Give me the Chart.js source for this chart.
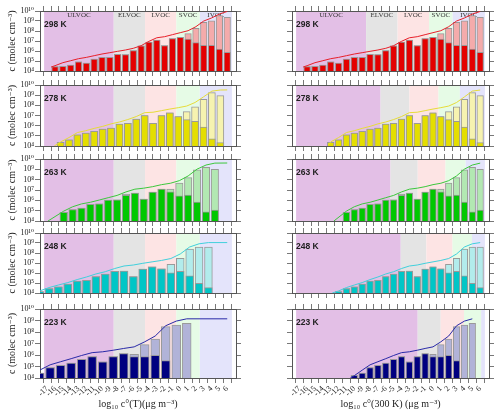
<!DOCTYPE html>
<html>
<head>
<meta charset="utf-8">
<script src="https://cdn.jsdelivr.net/npm/chart.js@4"></script>
<style>
  body { margin: 0; background: #fff; width: 500px; height: 415px; overflow: hidden; position: relative; }
  canvas { position: absolute; }
</style>
</head>
<body>
<script>
// ---- data ----
const temps = ['298 K', '278 K', '263 K', '248 K', '223 K'];
const classNames = ['ULVOC', 'ELVOC', 'LVOC', 'SVOC', 'IVOC'];
const xTicks = [-17,-16,-15,-14,-13,-12,-11,-10,-9,-8,-7,-6,-5,-4,-3,-2,-1,0,1,2,3,4,5,6];
const yTicks = [1e4, 1e5, 1e6, 1e7, 1e8, 1e9, 1e10];

// class borders, log10 c°(T) axis (left) and log10 c°(300 K) axis (right, one row per T)
const edgesT = [-8.5, -4.5, -0.5, 2.5];
const edges300 = [
  [-8.5, -4.5, -0.5, 2.5],
  [-6.66, -3.0, 0.7, 3.42],
  [-5.39, -1.94, 1.59, 4.15],
  [-4.1, -0.85, 2.48, 4.96],
  [-1.94, 0.98, 3.94, 6.13]
];

// 298 K
const bins298 = [-16,-15,-14,-13,-12,-11,-10,-9,-8,-7,-6,-5,-4,-3,-2,-1,0,1,2,3,4,5,6];
const xT298 = [-16,-15,-14,-13,-12,-11,-10,-9,-8,-7,-6,-5,-4,-3,-2,-1,0,1,2,3,4,5,6];
const part298 = [2.7e4,2.95e4,4.0e4,8.5e4,6.3e4,1.6e5,2.3e5,2.3e5,4.7e5,4.3e5,1.1e6,3.2e6,7.9e6,1.25e7,3.4e6,1.7e7,2.3e7,1.6e7,6.8e6,3.7e6,3.7e6,1.6e6,7.4e5];
const total298 = [2.7e4,2.95e4,4.0e4,8.5e4,6.3e4,1.6e5,2.3e5,2.3e5,4.7e5,4.3e5,1.1e6,3.2e6,7.9e6,1.25e7,3.4e6,1.7e7,2.3e7,5.4e7,1.9e8,7.4e8,1.07e9,3.4e9,2.3e9];
const cum298 = [3.4e4,6.8e4,1.07e5,1.7e5,2.3e5,3.4e5,5.0e5,6.8e5,9.3e5,1.26e6,1.86e6,3.4e6,9.3e6,2.1e7,2.7e7,4.3e7,6.8e7,1.07e8,2.7e8,1.0e9,2.0e9,5.0e9,9.0e9];

// 278 K
const bins278 = [-13,-12,-11,-10,-9,-8,-7,-6,-5,-4,-3,-2,-1,0,1,2,3,4,5,6];
const xT278 = [-15.29,-14.22,-13.14,-12.07,-11.0,-9.92,-8.85,-7.77,-6.7,-5.62,-4.55,-3.48,-2.4,-1.33,-0.25,0.82,1.89,2.97,4.04,5.12];
const part278 = [2.3e4,4.0e4,1.26e5,1.9e5,2.7e5,4.7e5,5.9e5,1.4e6,1.66e6,4.5e6,1.0e7,1.66e6,1.0e7,1.8e7,7.9e6,4.0e6,2.7e6,7.1e5,5.2e4,2.2e4];
const total278 = [2.3e4,4.0e4,1.26e5,1.9e5,2.7e5,4.7e5,5.9e5,1.4e6,1.66e6,4.5e6,1.0e7,1.66e6,1.0e7,1.8e7,7.9e6,2.4e7,7.2e7,4.0e8,1.8e9,8.9e8];
const cum278 = [2.5e4,6.8e4,2.1e5,3.2e5,5.4e5,8.5e5,1.5e6,2.3e6,4.0e6,7.9e6,1.9e7,2.1e7,3.0e7,4.3e7,5.9e7,8.5e7,1.9e8,6.8e8,2.5e9,3.2e9];

// 263 K
const bins263 = [-11,-10,-9,-8,-7,-6,-5,-4,-3,-2,-1,0,1,2,3,4,5,6];
const xT263 = [-14.89,-13.75,-12.62,-11.48,-10.35,-9.21,-8.07,-6.94,-5.8,-4.67,-3.53,-2.39,-1.26,-0.12,1.01,2.15,3.29,4.42];
const part263 = [6.8e4,1.26e5,1.8e5,4.0e5,4.5e5,1.05e6,1.12e6,3.1e6,5.0e6,1.3e6,6.3e6,1.23e7,6.5e6,2.75e6,3.3e6,6.9e5,7.6e4,1.17e5];
const total263 = [6.8e4,1.26e5,1.8e5,4.0e5,4.5e5,1.05e6,1.12e6,4.1e6,5.0e6,1.3e6,6.3e6,1.23e7,1.23e7,4.8e7,1.55e8,8.9e8,1.55e9,1.0e9];
const cum263 = [9.0e4,2.4e5,4.5e5,6.5e5,1.07e6,1.8e6,3.0e6,6.5e6,1.2e7,1.5e7,2.1e7,3.3e7,4.5e7,8.0e7,2.3e8,1.05e9,2.6e9,4.0e9];

// 248 K
const bins248 = [-12,-11,-10,-9,-8,-7,-6,-5,-4,-3,-2,-1,0,1,2,3,4,5,6];
const xT248 = [-17.96,-16.76,-15.57,-14.37,-13.17,-11.98,-10.78,-9.58,-8.38,-7.19,-5.99,-4.79,-3.6,-2.4,-1.2,0.0,1.2,2.4,3.6];
const part248 = [1.35e4,2.75e4,4.2e4,7.6e4,1.6e5,1.8e5,4.4e5,7.9e5,1.5e6,1.6e6,4.4e5,2.4e6,4.2e6,2.6e6,1.05e6,1.5e6,5.2e5,9.5e4,3.4e4];
const total248 = [1.35e4,2.75e4,4.2e4,7.6e4,1.6e5,1.8e5,4.4e5,7.9e5,1.5e6,1.6e6,4.4e5,2.4e6,4.2e6,2.6e6,7.4e6,3.0e7,2.4e8,3.8e8,3.8e8];
const cum248 = [1.6e4,3.5e4,6.3e4,1.1e5,2.2e5,4.0e5,8.0e5,1.35e6,2.8e6,5.0e6,6.3e6,9.3e6,1.3e7,1.8e7,2.8e7,8.0e7,4.0e8,8.3e8,1.1e9];

// 223 K
const bins223 = [-10,-9,-8,-7,-6,-5,-4,-3,-2,-1,0,1,2,3,4,5];
const xT223 = [-19.32,-17.97,-16.63,-15.29,-13.94,-12.6,-11.26,-9.91,-8.57,-7.23,-5.89,-4.54,-3.2,-1.86,-0.51,0.83];
const part223 = [1.7e4,2.7e4,7.9e4,1.26e5,2.0e5,4.2e5,7.2e5,2.6e5,7.2e5,1.3e6,7.2e5,7.2e5,9.3e5,3.2e5,null,null];
const total223 = [1.7e4,2.7e4,7.9e4,1.26e5,2.0e5,4.2e5,7.2e5,2.6e5,7.2e5,1.3e6,1.15e6,7.9e6,2.45e7,2.9e8,4.0e8,5.6e8];
const cum223 = [1.6e4,4.8e4,1.4e5,2.6e5,4.8e5,9.1e5,1.6e6,1.9e6,2.6e6,3.7e6,5.1e6,1.4e7,4.5e7,3.5e8,8.9e8,1.4e9];

// where the cumulative lines start / end outside the bins
const leadR = [[-16.5, 2.5e4], [-13.3, 1.4e4], [-12.6, 1e4], [-12.8, 1e4], [-10.5, 1e4]];
const leadL = [[-16.5, 2.5e4], [-16.1, 1e4], [-16.9, 1e4], null, null];
const tailL = [null, [6.0, 3.3e9], [6.0, 4.1e9], [6.0, 1.1e9], [6.0, 1.4e9]];

const bins = [bins298, bins278, bins263, bins248, bins223];
const xLeft = [xT298, xT278, xT263, xT248, xT223];
const part = [part298, part278, part263, part248, part223];
const total = [total298, total278, total263, total248, total223];
const cum = [cum298, cum278, cum263, cum248, cum223];

// ---- styles ----
const darkCol = ['#e40000', '#e4de00', '#00c800', '#00c6c6', '#000080'];
const lightCol = ['#f4abab', '#f6f3b0', '#b2e8b2', '#b2ecec', '#b1b3d8'];
const lineCol = ['#e8202a', '#e6dc3a', '#3cc83c', '#40d0dc', '#2a2aa8'];
const classCol = ['#e3bfe6', '#e4e4e4', '#fde4e4', '#e6fbe6', '#e4e4fb'];

const X_MIN = -17.4, X_MAX = 6.6;
const rowTop = [11, 85, 159, 233, 309];
const rowBot = [71, 146, 221, 293, 378];

Chart.defaults.font.family = "'Liberation Serif', 'DejaVu Serif', serif";
Chart.defaults.color = '#222';

function sup(n) {
  return String(n).split('').map(ch => '⁰¹²³⁴⁵⁶⁷⁸⁹'['0123456789'.indexOf(ch)]).join('');
}

const decor = {
  id: 'decor',
  beforeDraw(chart, args, opts) {
    const {ctx, chartArea: a} = chart;
    const x = chart.scales.x;
    const b = [X_MIN, ...opts.edges, X_MAX];
    ctx.save();
    for (let i = 0; i < 5; i++) {
      const x0 = Math.max(a.left, x.getPixelForValue(b[i]));
      const x1 = Math.min(a.right, x.getPixelForValue(b[i + 1]));
      if (x1 <= x0) continue;
      ctx.fillStyle = classCol[i];
      ctx.fillRect(x0, a.top, x1 - x0, a.bottom - a.top);
      if (opts.names) {
        ctx.fillStyle = '#333';
        ctx.font = "7px 'Liberation Serif'";
        ctx.textAlign = 'center';
        ctx.textBaseline = 'middle';
        ctx.fillText(classNames[i], (x0 + x1) / 2, a.top + 4.5);
      }
    }
    ctx.fillStyle = '#222';
    ctx.font = "bold 8.5px 'Liberation Sans'";
    ctx.textAlign = 'left';
    ctx.textBaseline = 'alphabetic';
    ctx.fillText(opts.temp, a.left + 4, a.top + 15.5);
    ctx.restore();
  }
};

const tickGrid = {drawOnChartArea: false, drawTicks: true, tickLength: 5, color: '#555', tickWidth: 0.8};
const frame = {display: true, color: '#555', width: 1};

function panel(r, col) {
  const isL = col === 0, last = r === 4;
  const aL = isL ? 40 : 292, aR = isL ? 236 : 489;
  const cL = isL ? 0 : 286;
  const topH = 6, rW = 6, yW = aL - cL;
  const botH = last ? 415 - rowBot[r] : 6;
  const cT = rowTop[r] - topH;
  const cv = document.createElement('canvas');
  cv.width = aR + rW - cL;
  cv.height = rowBot[r] + botH - cT;
  cv.style.left = cL + 'px';
  cv.style.top = cT + 'px';
  document.body.appendChild(cv);

  const xs = isL ? xLeft[r] : bins[r];
  const lead = isL ? leadL[r] : leadR[r];
  const tail = isL ? tailL[r] : null;
  const linePts = [];
  if (lead) linePts.push({x: lead[0], y: lead[1]});
  xs.forEach((x, i) => linePts.push({x: x, y: cum[r][i]}));
  if (tail) linePts.push({x: tail[0], y: tail[1]});
  const step = (xs[xs.length - 1] - xs[0]) / (xs.length - 1);
  const barW = 0.8 * step * (aR - aL) / (X_MAX - X_MIN);

  const xTitle = isL ? 'log₁₀ c°(T)(μg m⁻³)' : 'log₁₀ c°(300 K) (μg m⁻³)';

  new Chart(cv, {
    type: 'bar',
    data: {
      datasets: [
        {type: 'line', data: linePts, borderColor: lineCol[r], borderWidth: 1, pointRadius: 0, tension: 0, order: 0},
        {data: xs.map((x, i) => ({x: x, y: part[r][i]})), backgroundColor: darkCol[r],
         borderColor: '#9a9a9a', borderWidth: 1, grouped: false, barThickness: barW, order: 1},
        {data: xs.map((x, i) => ({x: x, y: total[r][i]})), backgroundColor: lightCol[r],
         borderColor: '#9a9a9a', borderWidth: 1, grouped: false, barThickness: barW, order: 2}
      ]
    },
    options: {
      responsive: false,
      animation: false,
      layout: {padding: 0, autoPadding: false},
      plugins: {
        legend: {display: false},
        tooltip: {enabled: false},
        decor: {edges: isL ? edgesT : edges300[r], names: r === 0, temp: temps[r]}
      },
      scales: {
        x: {
          type: 'linear', position: 'bottom', min: X_MIN, max: X_MAX,
          afterBuildTicks: s => { s.ticks = xTicks.map(v => ({value: v})); },
          afterFit: s => { s.height = botH; },
          grid: tickGrid, border: frame,
          ticks: {display: last, autoSkip: false, minRotation: 45, maxRotation: 45, padding: 1,
                  font: {size: 8}, color: '#222', callback: v => String(v)},
          title: {display: last, text: xTitle, font: {size: 10}, color: '#222', padding: {top: 0, bottom: 5}}
        },
        x2: {
          type: 'linear', position: 'top', min: X_MIN, max: X_MAX,
          afterBuildTicks: s => { s.ticks = xTicks.map(v => ({value: v})); },
          afterFit: s => { s.height = topH; },
          grid: tickGrid, border: frame, ticks: {display: false}
        },
        y: {
          type: 'logarithmic', position: 'left', min: 1e4, max: 1e10,
          afterBuildTicks: s => { s.ticks = yTicks.map(v => ({value: v})); },
          afterFit: s => { s.width = yW; },
          grid: tickGrid, border: frame,
          ticks: {display: isL, autoSkip: false, padding: 1, font: {size: 8}, color: '#222',
                  callback: v => '10' + sup(Math.round(Math.log10(v)))},
          title: {display: isL, text: 'c (molec cm⁻³)', font: {size: 10}, color: '#222', padding: {top: 6, bottom: 0}}
        },
        y2: {
          type: 'logarithmic', position: 'right', min: 1e4, max: 1e10,
          afterBuildTicks: s => { s.ticks = yTicks.map(v => ({value: v})); },
          afterFit: s => { s.width = rW; },
          grid: tickGrid, border: frame, ticks: {display: false}
        }
      }
    },
    plugins: [decor]
  });
}

for (let r = 0; r < 5; r++) {
  panel(r, 0);
  panel(r, 1);
}
</script>
</body>
</html>
